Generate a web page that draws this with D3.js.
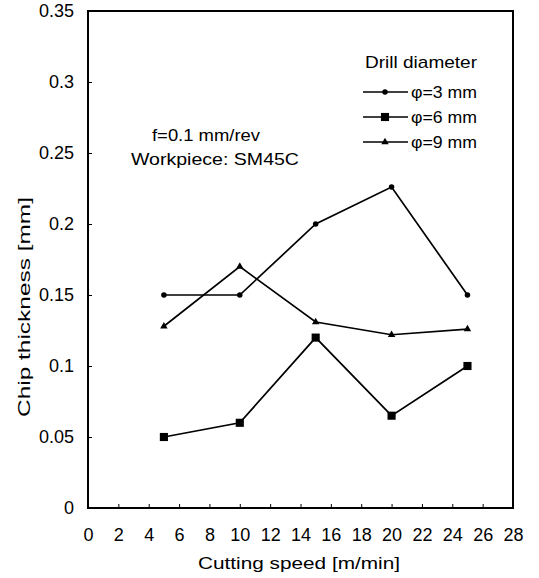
<!DOCTYPE html>
<html>
<head>
<meta charset="utf-8">
<script src="https://cdn.jsdelivr.net/npm/d3@7"></script>
<style>
  body { margin: 0; background: #fff; }
  text { font-family: "Liberation Sans", Arial, sans-serif; fill: #000; }
</style>
</head>
<body>
<script>
// chart data
var speeds = [5, 10, 15, 20, 25];
var phi3 = [0.15, 0.15, 0.2, 0.226, 0.15];
var phi6 = [0.05, 0.06, 0.12, 0.065, 0.1];
var phi9 = [0.128, 0.17, 0.131, 0.122, 0.126];
var seriesNames = ["\u03c6=3 mm", "\u03c6=6 mm", "\u03c6=9 mm"];
var xTicks = d3.range(0, 29, 2);
var yTicks = [0, 0.05, 0.1, 0.15, 0.2, 0.25, 0.3, 0.35];

var width = 539, height = 578;
var margin = {top: 11, right: 26, bottom: 70, left: 88};
var plotW = width - margin.left - margin.right,
    plotH = height - margin.top - margin.bottom;

var svg = d3.select("body").append("svg")
        .attr("width", width)
        .attr("height", height);

var x = d3.scaleLinear().domain([0, 28]).range([0, plotW]),
    y = d3.scaleLinear().domain([0, 0.35]).range([plotH, 0]);

var g = svg.append("g")
        .attr("transform", "translate(" + margin.left + "," + margin.top + ")");

// frame
g.append("rect")
        .attr("width", plotW).attr("height", plotH)
        .attr("fill", "none").attr("stroke", "#000").attr("stroke-width", 2);

// axes (ticks inward)
var xAxis = g.append("g")
        .attr("transform", "translate(0," + plotH + ")")
        .call(d3.axisBottom(x).tickValues(xTicks).tickSizeInner(-4).tickSizeOuter(0).tickPadding(20).tickFormat(d3.format("d")));
var yAxis = g.append("g")
        .call(d3.axisLeft(y).tickValues(yTicks).tickSizeInner(-4).tickSizeOuter(0).tickPadding(14).tickFormat(function(d){ return d === 0 ? "0" : String(+d.toFixed(2)); }));
[xAxis, yAxis].forEach(function(a){
    a.select(".domain").remove();
    a.selectAll("text").attr("font-size", 18).attr("font-family", "Liberation Sans, Arial, sans-serif");
    a.selectAll("line").attr("stroke", "#000");
});

// helper for text stretched to the width seen in the picture
function label(parent, px, py, str, len, size) {
    return parent.append("text")
            .attr("x", px).attr("y", py)
            .attr("font-size", size)
            .attr("textLength", len).attr("lengthAdjust", "spacingAndGlyphs")
            .text(str);
}

// axis titles
label(svg, 198, 569, "Cutting speed [m/min]", 202, 17);
label(svg.append("g").attr("transform", "translate(30,417) rotate(-90)"), 0, 0, "Chip thickness [mm]", 220, 17);

// series
var series = [phi3, phi6, phi9];
var symbols = [
    d3.symbol().type(d3.symbolCircle).size(24),
    d3.symbol().type(d3.symbolSquare).size(66),
    d3.symbol().type(d3.symbolTriangle).size(24)
];
var line = d3.line()
        .x(function(d){ return x(d[0]); })
        .y(function(d){ return y(d[1]); });

series.forEach(function(vals, i){
    var pts = speeds.map(function(s, j){ return [s, vals[j]]; });
    g.append("path")
            .datum(pts)
            .attr("d", line)
            .attr("fill", "none").attr("stroke", "#000").attr("stroke-width", 1.7);
    g.selectAll(".m" + i)
            .data(pts)
            .enter().append("path")
            .attr("class", "m" + i)
            .attr("d", symbols[i])
            .attr("transform", function(d){ return "translate(" + x(d[0]) + "," + y(d[1]) + ")"; })
            .attr("fill", "#000");
});

// legend
var legend = svg.append("g");
label(legend, 365, 68, "Drill diameter", 112, 17);
seriesNames.forEach(function(name, i){
    var ly = 92 + i * 25;
    legend.append("line")
            .attr("x1", 363).attr("x2", 408).attr("y1", ly).attr("y2", ly)
            .attr("stroke", "#000").attr("stroke-width", 1.6);
    legend.append("path")
            .attr("d", symbols[i])
            .attr("transform", "translate(385," + ly + ")")
            .attr("fill", "#000");
    label(legend, 411, ly + 6, name, 66, 17);
});

// annotation
label(svg, 152, 141, "f=0.1 mm/rev", 108, 17);
label(svg, 131, 165, "Workpiece: SM45C", 168, 17);
</script>
</body>
</html>
